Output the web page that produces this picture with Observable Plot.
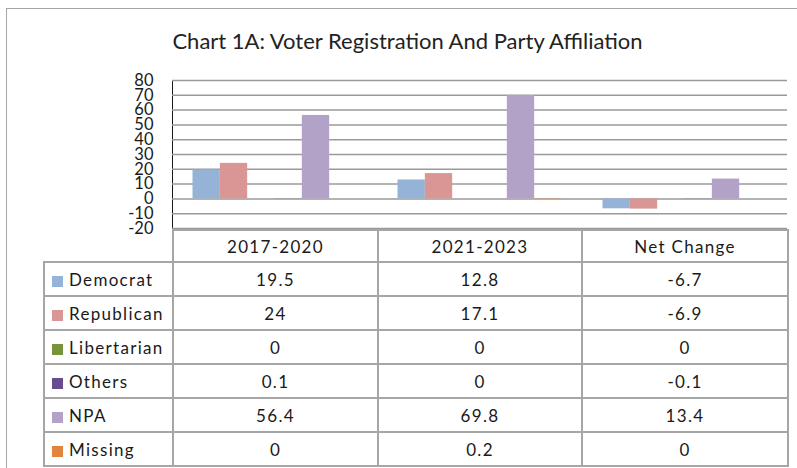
<!DOCTYPE html>
<html>
<head>
<meta charset="utf-8">
<script src="https://cdn.jsdelivr.net/npm/d3@7"></script>
<script src="https://cdn.jsdelivr.net/npm/@observablehq/plot@0.6"></script>
<style>
  html, body { margin: 0; padding: 0; background: #fff; }
  #page { position: relative; width: 797px; height: 468px; overflow: hidden; font-family: Lato, "Noto Sans", sans-serif; color: #1a1a1a; }
  #frame { position: absolute; left: 6px; top: 8px; width: 820px; height: 480px; border: 1.5px solid #a6a6a6; box-sizing: border-box; }
  #title { position: absolute; left: 0; top: 27px; width: 815px; text-align: center; font-size: 22px; color: #222; }
  #chart { position: absolute; left: 0; top: 0; }
  #chart svg [aria-label="y-axis"] path { stroke: #9a9a9a; stroke-width: 1.5px; }
  #tbl { position: absolute; left: 43px; top: 229px; border-collapse: collapse; table-layout: fixed; font-size: 17px; letter-spacing: 1.3px; color: #1a1a1a; }
  #tbl td { border: 2px solid #a6a6a6; text-align: center; padding: 0; }
  #tbl td.lab { text-align: left; padding-left: 7px; white-space: nowrap; }
  #tbl td.blank { border-top: none; border-left: none; }
  .sw { display: inline-block; width: 11px; height: 11px; margin-right: 6px; vertical-align: -1px; }
</style>
</head>
<body>
<div id="page">
  <div id="frame"></div>
  <div id="title">Chart 1A: Voter Registration And Party Affiliation</div>
  <div id="chart"></div>
  <table id="tbl"></table>
</div>
<script>
const categories = ["2017-2020", "2021-2023", "Net Change"];
const parties = ["Democrat", "Republican", "Libertarian", "Others", "NPA", "Missing"];
const partyColors = ["#95b3d7", "#d99694", "#77933c", "#664d8c", "#b3a2c7", "#e2843d"];
const values2017 = [19.5, 24, 0, 0.1, 56.4, 0];
const values2021 = [12.8, 17.1, 0, 0, 69.8, 0.2];
const valuesNet = [-6.7, -6.9, 0, -0.1, 13.4, 0];
const yTicks = [-20, -10, 0, 10, 20, 30, 40, 50, 60, 70, 80];

const series = [values2017, values2021, valuesNet];
const rows = [];
categories.forEach((c, i) => parties.forEach((p, j) => rows.push({cat: c, party: p, value: series[i][j]})));

const chart = Plot.plot({
  width: 797,
  height: 242,
  marginTop: 80,
  marginBottom: 14,
  marginLeft: 172,
  marginRight: 10,
  style: {fontFamily: "Lato, 'Noto Sans', sans-serif", fontSize: "16.5px", color: "#1a1a1a", background: "transparent"},
  fx: {domain: categories, padding: 0, round: false, axis: null},
  x: {domain: parties, paddingInner: 0, paddingOuter: 0.75, round: false, axis: null},
  y: {domain: [-20, 80], ticks: yTicks, tickSize: 0, tickPadding: 19, tickFormat: d => d, label: null, line: true},
  color: {domain: parties, range: partyColors},
  marks: [
    Plot.ruleY(yTicks, {stroke: "#9a9a9a", strokeWidth: 1.5}),
    Plot.barY(rows, {fx: "cat", x: "party", y: "value", fill: "party"})
  ]
});
document.getElementById("chart").appendChild(chart);

// data table
const tbl = d3.select("#tbl");
const colW = [129, 205, 204, 206];
const cg = tbl.append("colgroup");
colW.forEach(w => cg.append("col").style("width", w + "px"));
const head = tbl.append("tr").style("height", "32px");
head.append("td").attr("class", "blank");
categories.forEach(c => head.append("td").text(c));
parties.forEach((p, j) => {
  const tr = tbl.append("tr").style("height", "34px");
  const lab = tr.append("td").attr("class", "lab");
  lab.append("span").attr("class", "sw").style("background", partyColors[j]);
  lab.append("span").text(p);
  series.forEach(s => tr.append("td").text(s[j]));
});
</script>
</body>
</html>
